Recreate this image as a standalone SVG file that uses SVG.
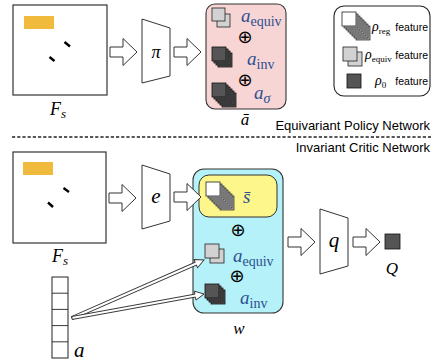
<svg xmlns="http://www.w3.org/2000/svg" width="433" height="362" viewBox="0 0 433 362">
<style>
.frame{fill:#fff;stroke:#333;stroke-width:1.2}
.bar{fill:#F0BA3C}
.dash{stroke:#000;stroke-width:2.4}
.blk{fill:#fff;stroke:#333;stroke-width:1}
.trap{fill:#fff;stroke:#333;stroke-width:1}
.math{font-family:"Liberation Serif","Times New Roman",serif;font-style:italic;fill:#000}
.blue{fill:#2C4F8F}
.sub{font-style:normal}
.lbl{font-family:"Liberation Sans",Arial,sans-serif;fill:#000}
.w{fill:#fff;stroke:#222;stroke-width:0.8}
.g{fill:#a8a8a8;stroke:#222;stroke-width:0.7}
.lg{fill:#d2d2d2;stroke:#222;stroke-width:0.8}
.dk{fill:#555;stroke:#111;stroke-width:0.8}
.op{font-family:"DejaVu Sans",sans-serif;font-size:18px;fill:#000;text-anchor:middle}
.sep{stroke:#222;stroke-width:1.4;stroke-dasharray:3.2 2}
.thin{fill:#fff;stroke:#333;stroke-width:0.9}
</style>
<defs>
<polygon id="blk" class="blk" points="0,-5 13,-5 13,-13.5 27,0 13,13.5 13,5 0,5"/>
</defs>

<line class="sep" x1="12" y1="137" x2="431" y2="137"/>
<text class="lbl" x="430" y="130" font-size="13" text-anchor="end">Equivariant Policy Network</text>
<text class="lbl" x="430" y="152" font-size="13" text-anchor="end">Invariant Critic Network</text>

<g id="policy-input">
<rect class="frame" x="13" y="5" width="94" height="90"/>
<rect class="bar" x="24" y="16" width="30" height="13"/>
<line class="dash" x1="64.5" y1="42" x2="70" y2="46.5"/>
<line class="dash" x1="49.5" y1="57" x2="54.5" y2="61"/>
<text class="math" x="50" y="115" font-size="18">F<tspan font-size="13" dy="3">s</tspan></text>
</g>

<g id="pi">
<polygon class="trap" points="142,19 170,28 170,76 142,83"/>
<text class="math" x="156" y="58" font-size="18" text-anchor="middle">π</text>
</g>

<g id="abar">
<rect x="206" y="4" width="80" height="105" rx="9" fill="#F8D5D5" stroke="#333" stroke-width="1.1"/>
<rect class="lg" x="217" y="14" width="13" height="13"/>
<rect class="lg" x="212" y="8" width="13" height="13"/>
<rect class="dk" x="218" y="53" width="14" height="14"/>
<rect class="dk" x="216" y="51" width="14" height="14"/>
<rect class="dk" x="214" y="49" width="14" height="14"/>
<rect class="dk" x="212" y="47" width="14" height="14"/>
<rect class="dk" x="222" y="93" width="14" height="14"/>
<rect class="dk" x="220" y="91" width="14" height="14"/>
<rect class="dk" x="218" y="89" width="14" height="14"/>
<rect class="dk" x="216" y="87" width="14" height="14"/>
<rect class="dk" x="214" y="85" width="14" height="14"/>
<rect class="dk" x="212" y="83" width="14" height="14"/>
<text class="math blue" x="241" y="22" font-size="19">a<tspan class="sub" font-size="14" dy="4">equiv</tspan></text>
<text class="op" x="245" y="42.5">⊕</text>
<text class="math blue" x="247" y="65" font-size="19">a<tspan class="sub" font-size="14" dy="4">inv</tspan></text>
<text class="op" x="245" y="85.5">⊕</text>
<text class="math blue" x="254" y="99" font-size="19">a<tspan font-size="14" dy="4">σ</tspan></text>
<text class="math" x="245" y="125" font-size="17" text-anchor="middle">ā</text>
</g>

<g id="legend">
<rect x="334" y="6" width="96" height="90" rx="10" fill="#fff" stroke="#222" stroke-width="1.1"/>
<rect class="g" x="356" y="26" width="14" height="14"/>
<rect class="g" x="354" y="24" width="14" height="14"/>
<rect class="g" x="352" y="22" width="14" height="14"/>
<rect class="g" x="350" y="20" width="14" height="14"/>
<rect class="g" x="348" y="18" width="14" height="14"/>
<rect class="g" x="346" y="16" width="14" height="14"/>
<rect class="g" x="344" y="14" width="14" height="14"/>
<rect class="w" x="342" y="12" width="14" height="14"/>
<text class="math" x="372" y="31" font-size="14">ρ<tspan class="sub" font-size="9" dy="3">reg</tspan></text>
<text class="lbl" x="428" y="31" font-size="10.5" text-anchor="end">feature</text>
<rect class="lg" x="348" y="52" width="14" height="14"/>
<rect class="lg" x="343" y="47" width="14" height="14"/>
<text class="math" x="365" y="59" font-size="14">ρ<tspan class="sub" font-size="9" dy="3">equiv</tspan></text>
<text class="lbl" x="428" y="59" font-size="10.5" text-anchor="end">feature</text>
<rect class="dk" x="347" y="74" width="14" height="14"/>
<text class="math" x="375" y="85" font-size="14">ρ<tspan class="sub" font-size="9" dy="3">0</tspan></text>
<text class="lbl" x="428" y="85" font-size="10.5" text-anchor="end">feature</text>
</g>

<g id="critic-input">
<rect class="frame" x="13" y="152" width="93" height="91"/>
<rect class="bar" x="23" y="162" width="30" height="13"/>
<line class="dash" x1="63.5" y1="188" x2="69" y2="192"/>
<line class="dash" x1="48" y1="202.5" x2="53" y2="207"/>
<text class="math" x="52" y="262" font-size="18">F<tspan font-size="13" dy="3">s</tspan></text>
</g>

<g id="e">
<polygon class="trap" points="142,165 170,174 170,221 142,229"/>
<text class="math" x="156" y="203" font-size="21" text-anchor="middle">e</text>
</g>

<g id="w">
<rect x="193" y="169" width="90" height="144" rx="11" fill="#B5F1F8" stroke="#333" stroke-width="1.1"/>
<rect x="199" y="175" width="78" height="42" rx="10" fill="#FDF68A" stroke="#333" stroke-width="1"/>
<rect class="g" x="220" y="196" width="14" height="14"/>
<rect class="g" x="218" y="194" width="14" height="14"/>
<rect class="g" x="216" y="192" width="14" height="14"/>
<rect class="g" x="214" y="190" width="14" height="14"/>
<rect class="g" x="212" y="188" width="14" height="14"/>
<rect class="g" x="210" y="186" width="14" height="14"/>
<rect class="g" x="208" y="184" width="14" height="14"/>
<rect class="w" x="206" y="182" width="14" height="14"/>
<text class="math blue" x="243" y="203" font-size="19">s̄</text>
<text class="op" x="238" y="235.5">⊕</text>
<rect class="lg" x="210" y="249" width="14" height="14"/>
<rect class="lg" x="205" y="244" width="14" height="14"/>
<text class="math blue" x="233" y="262" font-size="19">a<tspan class="sub" font-size="14" dy="4">equiv</tspan></text>
<text class="op" x="237" y="282">⊕</text>
<rect class="dk" x="211" y="290" width="14" height="14"/>
<rect class="dk" x="209" y="288" width="14" height="14"/>
<rect class="dk" x="207" y="286" width="14" height="14"/>
<rect class="dk" x="205" y="284" width="14" height="14"/>
<text class="math blue" x="240" y="304" font-size="19">a<tspan class="sub" font-size="14" dy="4">inv</tspan></text>
<text class="math" x="239" y="334" font-size="17" text-anchor="middle">w</text>
</g>

<g id="q">
<polygon class="trap" points="320,209 348,218 348,266 320,274"/>
<text class="math" x="334" y="247" font-size="21" text-anchor="middle">q</text>
</g>

<g id="Q">
<rect class="dk" x="385" y="234" width="15" height="15"/>
<text class="math" x="392" y="274" font-size="17" text-anchor="middle">Q</text>
</g>

<g id="a-vector">
<rect x="52" y="277" width="16" height="81" fill="#fff" stroke="#222" stroke-width="1"/>
<line x1="52" y1="293.2" x2="68" y2="293.2" stroke="#222" stroke-width="0.9"/>
<line x1="52" y1="309.4" x2="68" y2="309.4" stroke="#222" stroke-width="0.9"/>
<line x1="52" y1="325.6" x2="68" y2="325.6" stroke="#222" stroke-width="0.9"/>
<line x1="52" y1="341.8" x2="68" y2="341.8" stroke="#222" stroke-width="0.9"/>
<text class="math" x="74" y="357" font-size="21">a</text>
</g>

<g id="connectors">
<use href="#blk" x="110" y="52"/>
<use href="#blk" x="174" y="52"/>
<use href="#blk" x="109" y="198"/>
<use href="#blk" x="174" y="197"/>
<use href="#blk" x="288" y="242"/>
<use href="#blk" x="353" y="242"/>
<g transform="translate(72,318) rotate(-23.72)">
<polygon class="thin" points="0,-1.5 135.2,-1.5 135.2,-4.5 144.2,0 135.2,4.5 135.2,1.5 0,1.5"/>
</g>
<g transform="translate(72,318) rotate(-10.3)">
<polygon class="thin" points="0,-1.5 125.2,-1.5 125.2,-4.5 134.2,0 125.2,4.5 125.2,1.5 0,1.5"/>
</g>
</g>
</svg>
